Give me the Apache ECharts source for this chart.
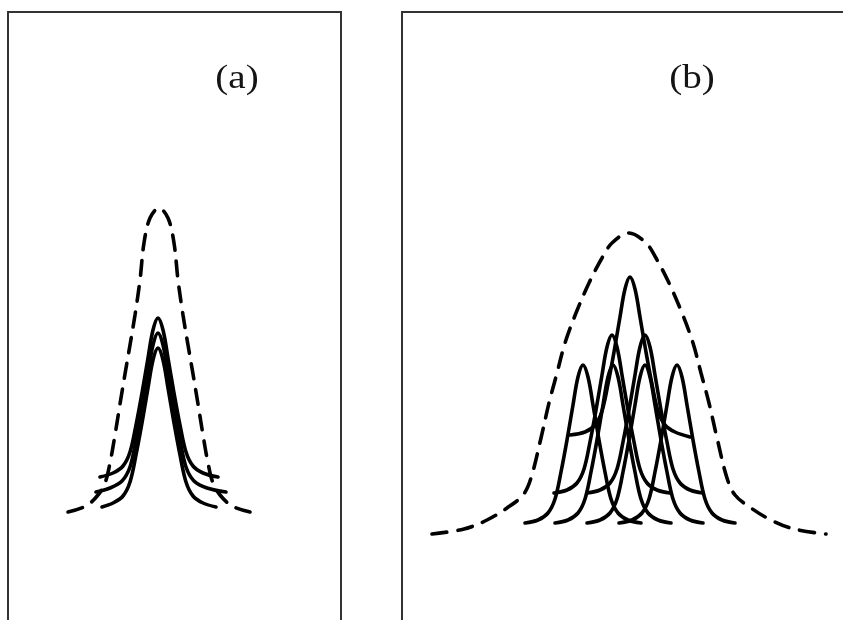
<!DOCTYPE html>
<html>
<head>
<meta charset="utf-8">
<title>(a) (b)</title>
<script src="https://cdn.jsdelivr.net/npm/echarts@6/dist/echarts.min.js"></script>
<style>
	html, body { margin: 0; padding: 0; background: #fff; }
	#main { width: 843px; height: 620px; }
</style>
</head>
<body>
<div id="main"></div>
<script>
'use strict';
// panel labels
var panelLabels = ['(a)', '(b)'];

// panel (a): envelope (dashed) and three stacked narrow lines
var envA = [[-9.0, 0.0], [-7.2, 0.06], [-6.0, 0.17], [-5.3, 0.29], [-4.8, 0.49], [-4.3, 0.77], [-3.8, 1.08], [-3.3, 1.38], [-2.8, 1.67], [-2.3, 1.97], [-1.8, 2.32], [-1.4, 2.69], [-0.8, 2.94], [0.1, 3.04], [1.0, 2.94], [1.6, 2.69], [2.0, 2.32], [2.5, 1.97], [3.0, 1.67], [3.5, 1.38], [4.0, 1.08], [4.5, 0.77], [5.0, 0.49], [5.5, 0.29], [6.2, 0.17], [7.4, 0.06], [9.2, 0.0]];
var lineA1 = [[-5.8, 0.35], [-4.5, 0.39], [-3.5, 0.46], [-2.8, 0.60], [-2.2, 0.87], [-1.6, 1.19], [-1.0, 1.54], [-0.5, 1.82], [0, 1.94], [0.5, 1.82], [1.0, 1.54], [1.6, 1.19], [2.2, 0.87], [2.8, 0.60], [3.5, 0.46], [4.5, 0.39], [6.0, 0.35]];
var lineA2 = [[-6.2, 0.20], [-4.8, 0.24], [-3.6, 0.31], [-2.8, 0.45], [-2.2, 0.72], [-1.6, 1.04], [-1.0, 1.39], [-0.5, 1.67], [0, 1.79], [0.5, 1.67], [1.0, 1.39], [1.6, 1.04], [2.2, 0.72], [2.8, 0.45], [3.6, 0.31], [4.9, 0.24], [6.8, 0.20]];
var lineA3 = [[-5.6, 0.05], [-4.5, 0.09], [-3.5, 0.16], [-2.8, 0.30], [-2.2, 0.57], [-1.6, 0.89], [-1.0, 1.24], [-0.5, 1.52], [0, 1.64], [0.5, 1.52], [1.0, 1.24], [1.6, 0.89], [2.2, 0.57], [2.8, 0.30], [3.5, 0.16], [4.5, 0.09], [5.8, 0.05]];

// panel (b): envelope (dashed) and seven shifted narrow lines
var envB = [[-19.8, 0.02], [-16.6, 0.07], [-14.3, 0.16], [-12.3, 0.28], [-10.7, 0.41], [-9.9, 0.58], [-8.9, 0.98], [-8.1, 1.33], [-7.3, 1.63], [-6.5, 1.93], [-5.4, 2.23], [-4.1, 2.53], [-2.8, 2.78], [-1.8, 2.93], [-0.1, 3.03], [1.6, 2.93], [2.6, 2.78], [3.9, 2.53], [5.2, 2.23], [6.3, 1.93], [7.1, 1.63], [7.9, 1.33], [8.7, 0.98], [9.7, 0.58], [10.5, 0.41], [12.1, 0.28], [14.1, 0.16], [16.4, 0.07], [19.6, 0.02]];
var lineC = [[-6.0, 1.01], [-4.5, 1.04], [-3.5, 1.11], [-2.8, 1.25], [-2.2, 1.52], [-1.6, 1.84], [-1.0, 2.19], [-0.5, 2.47], [0, 2.59], [0.5, 2.47], [1.0, 2.19], [1.6, 1.84], [2.2, 1.52], [2.8, 1.25], [3.5, 1.11], [4.5, 1.04], [6.0, 0.99]];
var lineM1 = [[-7.6, 0.43], [-6.3, 0.46], [-5.3, 0.53], [-4.6, 0.67], [-4.0, 0.94], [-3.4, 1.26], [-2.8, 1.61], [-2.3, 1.89], [-1.8, 2.01], [-1.3, 1.89], [-0.8, 1.61], [-0.2, 1.26], [0.4, 0.94], [1.0, 0.67], [1.7, 0.53], [2.7, 0.46], [4.0, 0.43]];
var lineM2 = [[-4.3, 0.43], [-3.0, 0.46], [-2.0, 0.53], [-1.3, 0.67], [-0.7, 0.94], [-0.1, 1.26], [0.5, 1.61], [1.0, 1.89], [1.5, 2.01], [2.0, 1.89], [2.5, 1.61], [3.1, 1.26], [3.7, 0.94], [4.3, 0.67], [5.0, 0.53], [6.0, 0.46], [7.3, 0.43]];
var lineL1 = [[-10.5, 0.13], [-9.2, 0.16], [-8.2, 0.23], [-7.5, 0.37], [-6.9, 0.64], [-6.3, 0.96], [-5.7, 1.31], [-5.2, 1.59], [-4.7, 1.71], [-4.2, 1.59], [-3.7, 1.31], [-3.1, 0.96], [-2.5, 0.64], [-1.9, 0.37], [-1.2, 0.23], [-0.2, 0.16], [1.1, 0.13]];
var lineL2 = [[-7.5, 0.13], [-6.2, 0.16], [-5.2, 0.23], [-4.5, 0.37], [-3.9, 0.64], [-3.3, 0.96], [-2.7, 1.31], [-2.2, 1.59], [-1.7, 1.71], [-1.2, 1.59], [-0.7, 1.31], [-0.1, 0.96], [0.5, 0.64], [1.1, 0.37], [1.8, 0.23], [2.8, 0.16], [4.1, 0.13]];
var lineR2 = [[-4.3, 0.13], [-3.0, 0.16], [-2.0, 0.23], [-1.3, 0.37], [-0.7, 0.64], [-0.1, 0.96], [0.5, 1.31], [1.0, 1.59], [1.5, 1.71], [2.0, 1.59], [2.5, 1.31], [3.1, 0.96], [3.7, 0.64], [4.3, 0.37], [5.0, 0.23], [6.0, 0.16], [7.3, 0.13]];
var lineR1 = [[-1.1, 0.13], [0.2, 0.16], [1.2, 0.23], [1.9, 0.37], [2.5, 0.64], [3.1, 0.96], [3.7, 1.31], [4.2, 1.59], [4.7, 1.71], [5.2, 1.59], [5.7, 1.31], [6.3, 0.96], [6.9, 0.64], [7.5, 0.37], [8.2, 0.23], [9.2, 0.16], [10.5, 0.13]];

var hiddenAxis = {
	type: 'value',
	axisLine: { show: false },
	axisTick: { show: false },
	axisLabel: { show: false },
	splitLine: { show: false }
};

function axis(idx, min, max) {
	return Object.assign({}, hiddenAxis, { gridIndex: idx, min: min, max: max });
}

function curve(data, panel, dashed) {
	return {
		type: 'line',
		xAxisIndex: panel,
		yAxisIndex: panel,
		data: data,
		showSymbol: false,
		smooth: 0.35,
		silent: true,
		lineStyle: {
			color: '#000',
			width: 3.6,
			type: dashed ? [15, 11] : 'solid',
			cap: 'round'
		}
	};
}

function label(text, x) {
	return {
		type: 'text', x: x, y: 79, scaleX: 1.15,
		style: { text: text, font: '34px "Liberation Serif", serif', fill: '#141414', textAlign: 'center', textVerticalAlign: 'middle' }
	};
}

var chart = echarts.init(document.getElementById('main'));

var option = {
	backgroundColor: '#fff',
	animation: false,
	grid: [
		// boxes run past the bottom / right edge of the picture
		{ left: 8, top: 12, width: 333, height: 640, outerBoundsMode: 'none', show: true, borderColor: '#333', borderWidth: 2 },
		{ left: 402, top: 12, width: 460, height: 640, outerBoundsMode: 'none', show: true, borderColor: '#333', borderWidth: 2 }
	],
	xAxis: [axis(0, -15.0, 18.3), axis(1, -22.8, 23.2)],
	yAxis: [axis(0, -1.4, 5.0), axis(1, -1.16, 5.24)],
	graphic: [label(panelLabels[0], 237), label(panelLabels[1], 692)],
	series: [
		curve(envA, 0, true),
		curve(lineA1, 0), curve(lineA2, 0), curve(lineA3, 0),
		curve(envB, 1, true),
		curve(lineC, 1), curve(lineM1, 1), curve(lineM2, 1),
		curve(lineL1, 1), curve(lineL2, 1), curve(lineR2, 1), curve(lineR1, 1)
	]
};

chart.setOption(option);
</script>
</body>
</html>
